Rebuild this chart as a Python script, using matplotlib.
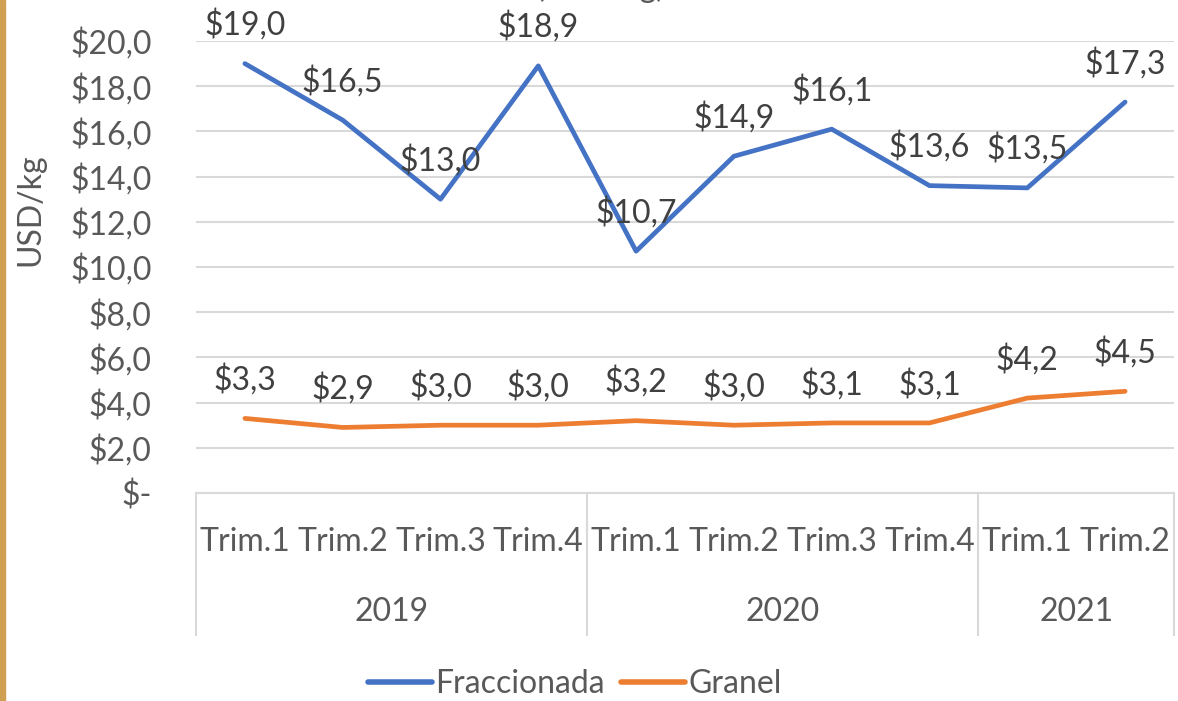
import matplotlib
matplotlib.use("Agg")
import matplotlib.pyplot as plt
from matplotlib.lines import Line2D
from matplotlib.patches import Rectangle

# ---- data ----
quarters = ["Trim.1", "Trim.2", "Trim.3", "Trim.4",
            "Trim.1", "Trim.2", "Trim.3", "Trim.4",
            "Trim.1", "Trim.2"]
years = ["2019", "2020", "2021"]
year_counts = [4, 4, 2]
fraccionada = [19.0, 16.5, 13.0, 18.9, 10.7, 14.9, 16.1, 13.6, 13.5, 17.3]
granel = [3.3, 2.9, 3.0, 3.0, 3.2, 3.0, 3.1, 3.1, 4.2, 4.5]
yticks = [0, 2, 4, 6, 8, 10, 12, 14, 16, 18, 20]

FONT = "Lato"
TXT = "#595959"
FS = 23
BLUE = "#4472C4"
ORANGE = "#ED7D31"
GRID = "#D9D9D9"

W, H = 1178, 701
fig = plt.figure(figsize=(W / 100, H / 100), dpi=100)
plt.rcParams["font.family"] = [FONT, "DejaVu Sans"]

# left accent bar
fig.patches.append(Rectangle((0, 0), 5 / W, 1, transform=fig.transFigure,
                             color="#CFA052", zorder=0))

ax = fig.add_axes([196 / W, (H - 493) / H, 978 / W, 452 / H])
x = list(range(len(quarters)))
ax.set_xlim(-0.5, len(quarters) - 0.5)
ax.set_ylim(0, 20)

ax.plot(x, fraccionada, color=BLUE, lw=3.4, solid_capstyle="round", zorder=3,
        label="Fraccionada", clip_on=False)
ax.plot(x, granel, color=ORANGE, lw=3.4, solid_capstyle="round", zorder=3,
        label="Granel", clip_on=False)

def fmt(v):
    return "$" + f"{v:.1f}".replace(".", ",")

for xi, v in zip(x, fraccionada):
    ax.annotate(fmt(v), (xi, v), xytext=(0, 28), textcoords="offset points",
                ha="center", va="center", fontsize=FS, color="#404040",
                annotation_clip=False, zorder=4)
for xi, v in zip(x, granel):
    ax.annotate(fmt(v), (xi, v), xytext=(0, 28), textcoords="offset points",
                ha="center", va="center", fontsize=FS, color="#404040",
                annotation_clip=False, zorder=4)

# y axis
ax.set_yticks(yticks)
ax.set_yticklabels(["$-" if t == 0 else "$" + f"{t:.1f}".replace(".", ",") for t in yticks])
ax.tick_params(axis="y", length=0, pad=32, labelsize=FS, labelcolor=TXT)
ax.grid(axis="y", color=GRID, lw=1.5, zorder=0)
ax.set_axisbelow(True)
for s in ["top", "right", "left"]:
    ax.spines[s].set_visible(False)
ax.spines["bottom"].set_color(GRID)
ax.spines["bottom"].set_linewidth(1.5)

# category axis (two levels)
ax.set_xticks([])
trans = ax.get_xaxis_transform()
for xi, q in zip(x, quarters):
    ax.text(xi, -49 / 452, q, transform=trans, ha="center", va="center",
            fontsize=FS, color=TXT, clip_on=False)
start = 0
bounds = [-0.5]
for yr, c in zip(years, year_counts):
    center = start + (c - 1) / 2
    ax.text(center, -119 / 452, yr, transform=trans, ha="center", va="center",
            fontsize=FS, color=TXT, clip_on=False)
    start += c
    bounds.append(start - 0.5)
for b in bounds:
    ax.add_line(Line2D([b, b], [0, -142 / 452], transform=trans, color=GRID,
                       lw=1.5, clip_on=False))

fig.text(30 / W, 1 - 210 / H, "USD/kg", rotation=90, ha="center", va="center",
         fontsize=FS, color=TXT)

# clipped title remnant (cut off at the top edge as in the reference)
fig.text(600 / W, 1 + 3 / H, "(USD/kg)", ha="center", va="baseline",
         fontsize=FS, color=TXT)

# legend
fig.legend(handles=[Line2D([], [], color=BLUE, lw=4, solid_capstyle="round"),
                    Line2D([], [], color=ORANGE, lw=4, solid_capstyle="round")],
           labels=["Fraccionada", "Granel"], loc="center",
           bbox_to_anchor=(575 / W, 1 - 684 / H), ncol=2, frameon=False,
           fontsize=FS, labelcolor=TXT, handlelength=2.0, handletextpad=0.1,
           columnspacing=0.5, borderpad=0.0)

fig.savefig("out.png", dpi=100)
